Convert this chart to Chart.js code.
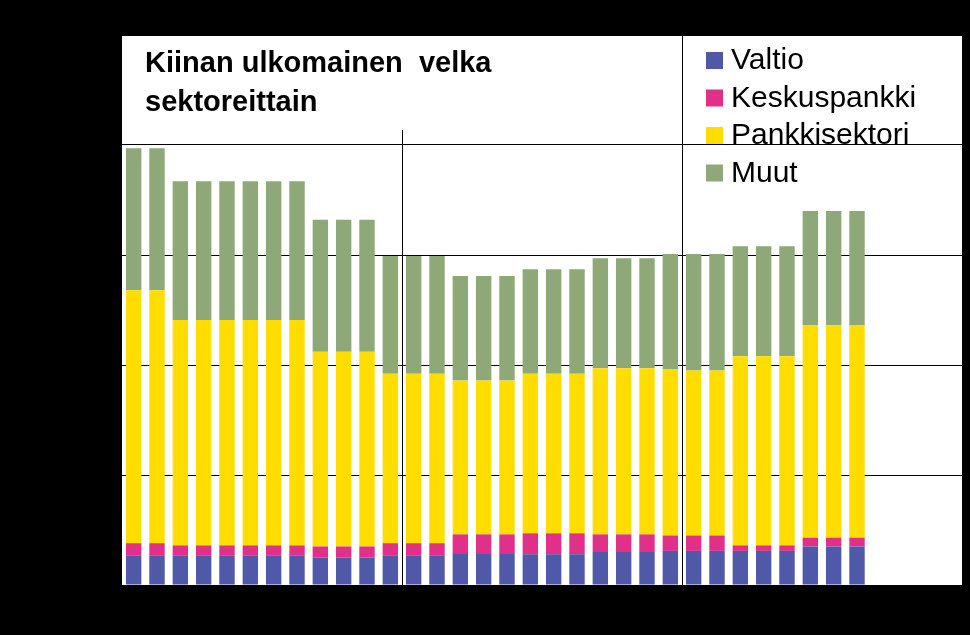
<!DOCTYPE html>
<html>
<head>
<meta charset="utf-8">
<script src="https://cdn.jsdelivr.net/npm/chart.js@4"></script>
<style>
  html, body { margin: 0; padding: 0; background: #000; }
  #wrap { width: 970px; height: 635px; }
</style>
</head>
<body>
<div id="wrap"><canvas id="chart"></canvas></div>
<script>
const labels = ['2012','','','','','','','','','','','','2013','','','','','','','','','','','','2014','','','','','','','','','','',''];
const valtio = [27,27,27,27,27,27,27,27,25,25,25,27,27,27,29,29,29,28,28,28,30,30,30,31,31,31,31,31,31,35,35,35];
const keskuspankki = [11,11,9,9,9,9,9,9,10,10,10,11,11,11,17,17,17,19,19,19,16,16,16,14,14,14,5,5,5,8,8,8];
const pankkisektori = [230,230,205,205,205,205,205,205,177,177,177,154,154,154,140,140,140,145,145,145,151,151,151,151,150,150,172,172,172,193,193,193];
const muut = [129,129,126,126,126,126,126,126,120,120,120,107,107,107,95,95,95,95,95,95,100,100,100,105,106,106,100,100,100,104,104,104];

const series = [
  { label: 'Valtio', data: valtio, color: '#5058a8' },
  { label: 'Keskuspankki', data: keskuspankki, color: '#e0308a' },
  { label: 'Pankkisektori', data: pankkisektori, color: '#ffdd00' },
  { label: 'Muut', data: muut, color: '#8fa878' }
];

// white plot background, title box and legend
const decor = {
  id: 'decor',
  beforeDraw(chart) {
    const { ctx, chartArea: a } = chart;
    ctx.save();
    ctx.fillStyle = '#fff';
    ctx.fillRect(a.left, a.top, a.right - a.left, a.bottom - a.top);
    ctx.restore();
  },
  beforeDatasetsDraw(chart) {
    const { ctx, chartArea: a } = chart;
    ctx.save();
    ctx.fillStyle = '#fff';
    ctx.fillRect(a.left + 1, a.top + 1, 559, 94);
    ctx.fillStyle = '#000';
    ctx.font = 'bold 29px "Liberation Sans", Arial, sans-serif';
    ctx.textBaseline = 'middle';
    ctx.fillText('Kiinan ulkomainen  velka', 145, 64);
    ctx.fillText('sektoreittain', 145, 103);
    ctx.font = '30px "Liberation Sans", Arial, sans-serif';
    series.forEach((s, i) => {
      const y = 60 + i * 37.5;
      ctx.fillStyle = s.color;
      ctx.fillRect(706, y - 8, 17, 17);
      ctx.fillStyle = '#000';
      ctx.fillText(s.label, 731, y + 1);
    });
    ctx.restore();
  }
};

new Chart(document.getElementById('chart'), {
  type: 'bar',
  data: {
    labels: labels,
    datasets: series.map(s => ({
      label: s.label,
      data: s.data,
      backgroundColor: s.color,
      barPercentage: 0.66,
      categoryPercentage: 1
    }))
  },
  options: {
    responsive: true,
    maintainAspectRatio: false,
    animation: false,
    layout: { padding: { left: 122, top: 35, right: 8, bottom: 50 } },
    plugins: { legend: { display: false }, tooltip: { enabled: false } },
    scales: {
      x: {
        stacked: true,
        grid: {
          offset: true,
          drawTicks: false,
          color: c => (c.index % 12 === 0 && c.index > 0) ? '#000' : 'rgba(0,0,0,0)'
        },
        border: { display: false },
        ticks: { display: false }
      },
      y: {
        stacked: true,
        min: 0,
        max: 500,
        grid: { color: '#000', drawTicks: false },
        border: { display: false },
        ticks: { display: false, stepSize: 100 }
      }
    }
  },
  plugins: [decor]
});
</script>
</body>
</html>
